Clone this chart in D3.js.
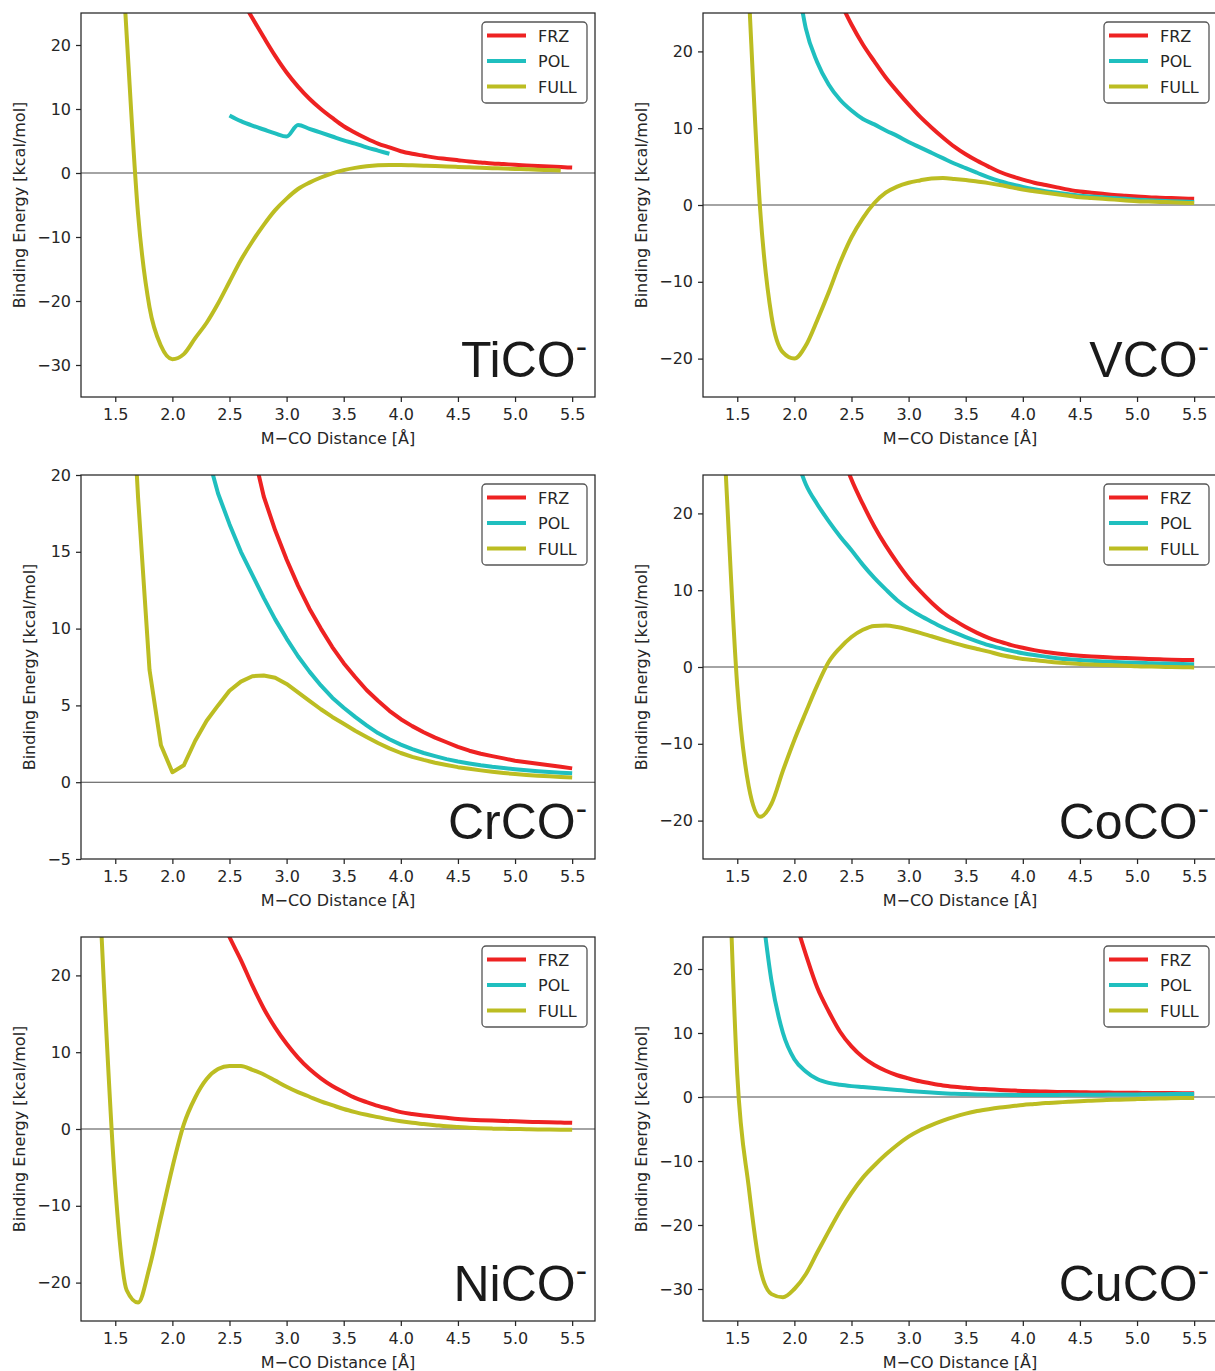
<html>
<head>
<meta charset="utf-8">
<script src="https://cdnjs.cloudflare.com/ajax/libs/d3/7.8.5/d3.min.js"></script>
<style>
  body { margin: 0; background: #ffffff; }
  text { font-family: "DejaVu Sans", sans-serif; fill: #262626; }
</style>
</head>
<body>
<div id="chartContainer"></div>
<script type="text/javascript">

  // M-CO distance grid, in Angstrom (1.3 ... 5.5, step 0.1)
  var dist = [
    1.3, 1.4, 1.5, 1.6, 1.7, 1.8, 1.9, 2.0, 2.1, 2.2,
    2.3, 2.4, 2.5, 2.6, 2.7, 2.8, 2.9, 3.0, 3.1, 3.2,
    3.3, 3.4, 3.5, 3.6, 3.7, 3.8, 3.9, 4.0, 4.1, 4.2,
    4.3, 4.4, 4.5, 4.6, 4.7, 4.8, 4.9, 5.0, 5.1, 5.2,
    5.3, 5.4, 5.5
  ];

  var seriesNames = ["FRZ", "POL", "FULL"];
  var xTicks = [1.5, 2.0, 2.5, 3.0, 3.5, 4.0, 4.5, 5.0, 5.5];
  var yTicksWide = [-30, -20, -10, 0, 10, 20];
  var yTicksMid = [-20, -10, 0, 10, 20];
  var yTicksCr = [-5, 0, 5, 10, 15, 20];

  // ---- TiCO- ----
  var tiFrz = [
    null, null, null, null, null, null, null, null, null, null,
    38, 34, 30.5, 27.3, 24.2, 21.2, 18.3, 15.7, 13.5, 11.6,
    10.0, 8.6, 7.3, 6.3, 5.4, 4.6, 4.0, 3.4, 3.0, 2.7,
    2.4, 2.2, 2.0, 1.8, 1.65, 1.5, 1.4, 1.28, 1.18, 1.08,
    1.0, 0.92, 0.85
  ];
  var tiPol = [
    null, null, null, null, null, null, null, null, null, null,
    null, null, 9.0, 8.1, 7.4, 6.8, 6.2, 5.7, 7.5, 6.9,
    6.3, 5.7, 5.1, 4.6, 4.0, 3.5, 3.0, null, null, null,
    null, null, null, null, null, null, null, null, null, null,
    null, null, null
  ];
  var tiFull = [
    null, null, 52, 21.5, -6.5, -21, -27.0, -29.1, -28.3, -25.8,
    -23.4, -20.4, -17.0, -13.6, -10.7, -8.1, -5.8, -4.0, -2.5, -1.5,
    -0.7, -0.05, 0.45, 0.8, 1.05, 1.2, 1.25, 1.25, 1.2, 1.15,
    1.1, 1.02, 0.95, 0.88, 0.82, 0.76, 0.7, 0.64, 0.58, 0.52,
    0.45, 0.38, null
  ];

  // ---- VCO- ----
  var vFrz = [
    null, null, null, null, null, null, null, null, null, null,
    null, 26.5, 23.5, 20.9, 18.7, 16.6, 14.8, 13.1, 11.5, 10.1,
    8.8, 7.6, 6.6, 5.75, 5.0, 4.3, 3.75, 3.3, 2.9, 2.6,
    2.3, 2.0, 1.75, 1.6, 1.45, 1.3, 1.2, 1.1, 1.0, 0.95,
    0.9, 0.85, 0.8
  ];
  var vPol = [
    null, null, null, null, null, null, null, 32, 23, 18.6,
    15.7, 13.7, 12.3, 11.2, 10.5, 9.7, 9.0, 8.2, 7.5, 6.8,
    6.1, 5.4, 4.8, 4.2, 3.6, 3.1, 2.7, 2.35, 2.05, 1.8,
    1.6, 1.4, 1.2, 1.1, 1.0, 0.9, 0.8, 0.7, 0.62, 0.55,
    0.5, 0.45, 0.4
  ];
  var vFull = [
    null, null, 60, 28, -0.5, -14.5, -19.2, -20.0, -18.3, -15.0,
    -11.4, -7.5, -4.2, -1.7, 0.26, 1.6, 2.4, 2.9, 3.2, 3.45,
    3.5, 3.4, 3.25, 3.05, 2.85, 2.6, 2.3, 2.0, 1.8, 1.6,
    1.4, 1.2, 1.0, 0.9, 0.8, 0.7, 0.6, 0.5, 0.45, 0.4,
    0.35, 0.3, 0.25
  ];

  // ---- CrCO- ----
  var crFrz = [
    null, null, null, null, null, null, null, null, null, null,
    null, null, null, null, 21.8, 18.6, 16.4, 14.5, 12.8, 11.3,
    10.0, 8.8, 7.75, 6.85, 6.0, 5.3, 4.65, 4.1, 3.65, 3.25,
    2.9, 2.6, 2.3, 2.05, 1.85, 1.7, 1.55, 1.4, 1.3, 1.2,
    1.1, 1.0, 0.9
  ];
  var crPol = [
    null, null, null, null, null, null, null, null, null, null,
    21.5, 18.8, 16.8, 15.0, 13.5, 12.0, 10.6, 9.35, 8.2, 7.2,
    6.3, 5.5, 4.85, 4.25, 3.7, 3.2, 2.8, 2.45, 2.15, 1.9,
    1.7, 1.5, 1.35, 1.22, 1.1, 1.0, 0.92, 0.85, 0.78, 0.72,
    0.67, 0.62, 0.58
  ];
  var crFull = [
    null, null, null, 32, 18.5, 7.3, 2.4, 0.65, 1.1, 2.7,
    4.0, 5.0, 5.95, 6.55, 6.9, 6.95, 6.8, 6.4, 5.85, 5.3,
    4.75, 4.25, 3.8, 3.35, 2.95, 2.55, 2.2, 1.9, 1.65, 1.45,
    1.27, 1.12, 0.98, 0.87, 0.77, 0.68, 0.6, 0.53, 0.47, 0.42,
    0.38, 0.34, 0.3
  ];

  // ---- CoCO- ----
  var coFrz = [
    null, null, null, null, null, null, null, null, null, null,
    null, 28.5, 24.4, 21.2, 18.3, 15.8, 13.6, 11.6, 9.9, 8.4,
    7.1, 6.1, 5.2, 4.45, 3.8, 3.3, 2.85, 2.5, 2.2, 1.95,
    1.75, 1.6, 1.48, 1.38, 1.3, 1.22, 1.16, 1.1, 1.05, 1.0,
    0.96, 0.92, 0.9
  ];
  var coPol = [
    null, null, null, null, null, null, null, 28, 23.8, 21.2,
    19.0, 17.0, 15.2, 13.3, 11.6, 10.1, 8.7, 7.6, 6.7, 5.9,
    5.15, 4.5, 3.9, 3.35, 2.85, 2.45, 2.1, 1.8, 1.55, 1.35,
    1.15, 1.0, 0.9, 0.8, 0.72, 0.65, 0.6, 0.55, 0.5, 0.46,
    0.42, 0.38, 0.35
  ];
  var coFull = [
    55, 25, -2.5, -15.5, -19.5, -17.8, -13.5, -9.5, -5.9, -2.4,
    0.65, 2.5, 3.9, 4.85, 5.35, 5.4, 5.2, 4.85, 4.45, 4.0,
    3.55, 3.1, 2.7, 2.35, 2.0, 1.6, 1.3, 1.05, 0.9, 0.75,
    0.6, 0.5, 0.4, 0.33, 0.27, 0.22, 0.17, 0.1, 0.06, 0.03,
    0.0, -0.03, -0.05
  ];

  // ---- NiCO- ---- (POL is not visible in this panel)
  var niFrz = [
    null, null, null, null, null, null, null, null, null, null,
    null, 28.5, 25, 22, 18.7, 15.7, 13.2, 11.1, 9.3, 7.8,
    6.6, 5.6, 4.8, 4.05, 3.5, 3.0, 2.6, 2.2, 1.95, 1.75,
    1.6, 1.45, 1.3, 1.22, 1.15, 1.1, 1.05, 1.0, 0.95, 0.9,
    0.87, 0.84, 0.8
  ];
  var niFull = [
    50, 19, -7.5, -21, -22.6, -18, -11.5, -5.0, 0.6, 4.1,
    6.5, 7.8, 8.2, 8.2, 7.7, 7.1, 6.3, 5.5, 4.8, 4.2,
    3.6, 3.1, 2.6, 2.2, 1.85, 1.55, 1.25, 1.0, 0.8, 0.65,
    0.5, 0.35, 0.25, 0.17, 0.1, 0.05, 0.02, 0.0, -0.03, -0.05,
    -0.07, -0.09, -0.1
  ];

  // ---- CuCO- ----
  var cuFrz = [
    null, null, null, null, null, null, null, 28, 22.3, 17.1,
    13.4, 10.2, 7.9, 6.2, 5.0, 4.1, 3.4, 2.9, 2.45, 2.1,
    1.8, 1.6, 1.45, 1.3, 1.2, 1.1, 1.02, 0.95, 0.9, 0.85,
    0.8, 0.78, 0.75, 0.72, 0.7, 0.68, 0.66, 0.65, 0.63, 0.62,
    0.61, 0.6, 0.6
  ];
  var cuPol = [
    null, null, null, null, 32, 18.1, 10.0, 5.9, 4.0, 2.8,
    2.2, 1.9, 1.7, 1.55, 1.4, 1.25, 1.1, 0.95, 0.82, 0.7,
    0.6, 0.5, 0.45, 0.4, 0.37, 0.35, 0.33, 0.32, 0.32, 0.32,
    0.33, 0.34, 0.35, 0.36, 0.37, 0.38, 0.4, 0.41, 0.42, 0.44,
    0.45, 0.46, 0.48
  ];
  var cuFull = [
    null, 52, 3.5, -14, -26.7, -30.8, -31.3, -30.0, -27.7, -24.3,
    -21.0, -17.8, -15.0, -12.6, -10.7, -9.0, -7.5, -6.2, -5.2, -4.4,
    -3.7, -3.1, -2.6, -2.2, -1.9, -1.65, -1.45, -1.25, -1.1, -0.95,
    -0.85, -0.75, -0.65, -0.57, -0.5, -0.44, -0.38, -0.33, -0.28, -0.24,
    -0.2, -0.17, -0.14
  ];

  // Line colours for FRZ, POL, FULL
  var colors = ["#ee2222", "#1fbfbf", "#bcbd22"];

  // Panel table built from the arrays above
  var panels = [
    { name: "TiCO", left: 81,  top: 13,  yDomain: [-35, 25], yTicks: yTicksWide, series: [tiFrz, tiPol, tiFull], ylab: -56, linear: false },
    { name: "VCO",  left: 703, top: 13,  yDomain: [-25, 25], yTicks: yTicksMid,  series: [vFrz, vPol, vFull],    ylab: -56, linear: false },
    { name: "CrCO", left: 81,  top: 475, yDomain: [-5, 20],  yTicks: yTicksCr,   series: [crFrz, crPol, crFull], ylab: -46, linear: true },
    { name: "CoCO", left: 703, top: 475, yDomain: [-25, 25], yTicks: yTicksMid,  series: [coFrz, coPol, coFull], ylab: -56, linear: false },
    { name: "NiCO", left: 81,  top: 937, yDomain: [-25, 25], yTicks: yTicksMid,  series: [niFrz, null, niFull],  ylab: -56, linear: false },
    { name: "CuCO", left: 703, top: 937, yDomain: [-35, 25], yTicks: yTicksWide, series: [cuFrz, cuPol, cuFull], ylab: -56, linear: false }
  ];

  var W = 514, H = 384;
  var ink = "#262626";

  var svg = d3.select("#chartContainer").append("svg")
    .attr("width", 1215)
    .attr("height", 1371);

  panels.forEach(function (p, i) {

    var g = svg.append("g")
      .attr("transform", "translate(" + p.left + "," + p.top + ")");

    var x = d3.scaleLinear().domain([1.2, 5.7]).range([0, W]);
    var y = d3.scaleLinear().domain(p.yDomain).range([H, 0]);

    // Clip the curves to the axes box
    g.append("clipPath")
      .attr("id", "clip" + i)
      .append("rect")
      .attr("width", W)
      .attr("height", H);

    // Zero reference line
    g.append("line")
      .attr("x1", 0)
      .attr("x2", W)
      .attr("y1", y(0))
      .attr("y2", y(0))
      .style("stroke", "#4a4a4a")
      .style("stroke-width", 1.1);

    var line = d3.line()
      .defined(function (d) { return d[1] !== null; })
      .x(function (d) { return x(d[0]); })
      .y(function (d) { return y(d[1]); })
      .curve(p.linear ? d3.curveLinear : d3.curveMonotoneX);

    // FRZ, POL, FULL curves
    p.series.forEach(function (vals, k) {
      if (vals === null) return;
      g.append("path")
        .datum(dist.map(function (r, j) { return [r, vals[j]]; }))
        .attr("clip-path", "url(#clip" + i + ")")
        .attr("d", line)
        .style("fill", "none")
        .style("stroke", colors[k])
        .style("stroke-width", 4)
        .style("stroke-linejoin", "round");
    });

    // X axis
    var xAxis = g.append("g")
      .attr("transform", "translate(0," + H + ")")
      .call(d3.axisBottom(x).tickValues(xTicks).tickFormat(d3.format(".1f")).tickSize(5).tickSizeOuter(0));
    xAxis.select(".domain").remove();
    xAxis.selectAll("line").style("stroke", ink).style("stroke-width", 1.25);
    xAxis.selectAll("text")
      .attr("y", 23)
      .attr("dy", null)
      .style("font-size", "16px")
      .style("font-family", "DejaVu Sans")
      .style("fill", ink);

    // Y axis
    var yAxis = g.append("g")
      .call(d3.axisLeft(y).tickValues(p.yTicks).tickFormat(d3.format("d")).tickSize(5).tickPadding(5).tickSizeOuter(0));
    yAxis.select(".domain").remove();
    yAxis.selectAll("line").style("stroke", ink).style("stroke-width", 1.25);
    yAxis.selectAll("text")
      .style("font-size", "16px")
      .style("font-family", "DejaVu Sans")
      .style("fill", ink);

    // Axes box
    g.append("rect")
      .attr("width", W)
      .attr("height", H)
      .style("fill", "none")
      .style("stroke", ink)
      .style("stroke-width", 1.25);

    // Axis titles
    g.append("text")
      .attr("x", W / 2)
      .attr("y", H + 47)
      .attr("text-anchor", "middle")
      .style("font-size", "16px")
      .text("M\u2212CO Distance [\u00c5]");

    g.append("text")
      .attr("transform", "translate(" + p.ylab + "," + (H / 2) + ") rotate(-90)")
      .attr("text-anchor", "middle")
      .style("font-size", "16px")
      .text("Binding Energy [kcal/mol]");

    // Molecule label, bottom right
    var title = g.append("text")
      .attr("x", W - 8)
      .attr("y", H - 20)
      .attr("text-anchor", "end")
      .style("font-family", "Liberation Sans, Arial, sans-serif")
      .style("font-size", "50px")
      .style("fill", "#1a1a1a");
    title.append("tspan").text(p.name);
    title.append("tspan")
      .attr("dy", -19)
      .style("font-size", "34px")
      .text("-");

    // Legend
    var legend = g.append("g")
      .attr("transform", "translate(" + (W - 8 - 105) + ",9)");
    legend.append("rect")
      .attr("width", 105)
      .attr("height", 81)
      .attr("rx", 4)
      .attr("ry", 4)
      .style("fill", "#ffffff")
      .style("stroke", "#555555")
      .style("stroke-width", 1.3);
    seriesNames.forEach(function (s, k) {
      legend.append("line")
        .attr("x1", 5)
        .attr("x2", 44)
        .attr("y1", 13.5 + k * 25.5)
        .attr("y2", 13.5 + k * 25.5)
        .style("stroke", colors[k])
        .style("stroke-width", 4);
      legend.append("text")
        .attr("x", 56)
        .attr("y", 19.5 + k * 25.5)
        .style("font-size", "16px")
        .text(s);
    });
  });

</script>
</body>
</html>
